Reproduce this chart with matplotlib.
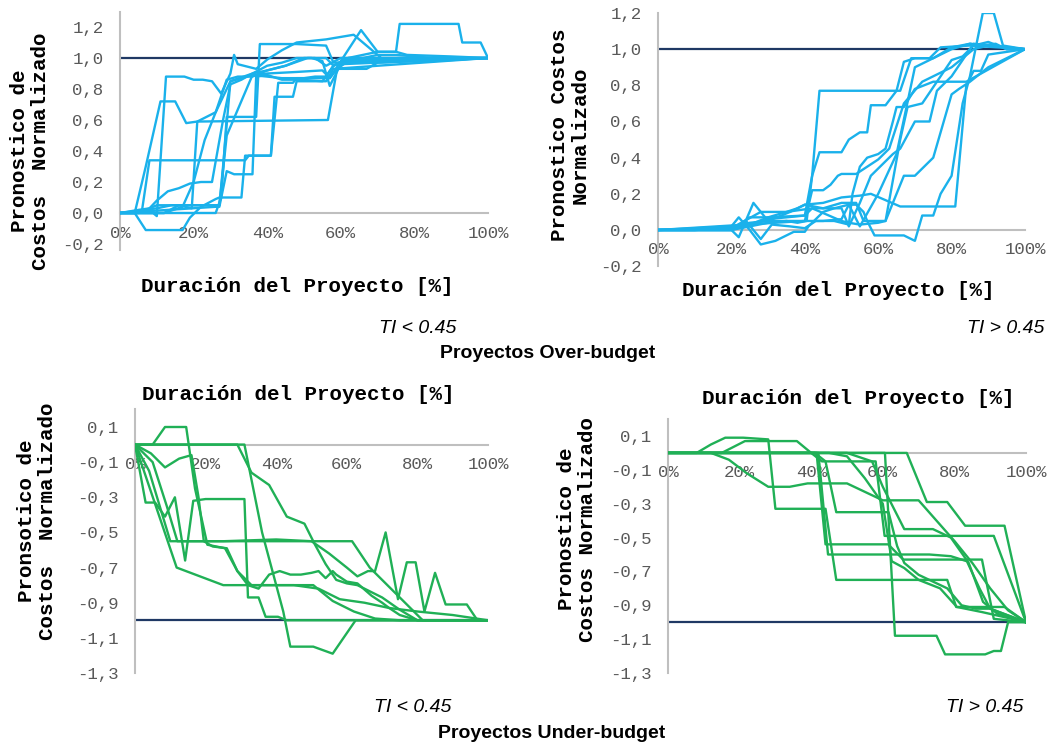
import matplotlib
matplotlib.use('Agg')
import matplotlib.pyplot as plt
from matplotlib.ticker import FuncFormatter

W, H = 1057, 746
BLUE = '#1ab1eb'
GREEN = '#20b056'
NAVY = '#1f3864'
GRAY = '#bfbfbf'
MONO = 'Liberation Mono'

# Over-budget, TI < 0.45
over_low_x = [
    [0, 9, 10, 12.5, 17.5, 20, 22.5, 25, 27.5, 30, 31, 32, 37, 40, 44, 48, 56, 63.5, 71, 100],
    [0, 4, 7, 11, 15, 18, 21, 26, 30, 33, 36, 44, 50, 53, 56, 58, 62, 100],
    [0, 4, 6, 8, 34, 35, 41, 43, 47, 48, 57, 59, 67, 70, 100],
    [0, 12, 16, 19.5, 21, 56.5, 59, 62, 85, 100],
    [0, 4, 7, 17, 19, 22, 26, 27, 33, 34, 38, 41, 42, 47, 48, 56, 58, 100],
    [0, 26, 27.5, 29, 37, 38, 48, 56, 58, 100],
    [0, 26, 27, 29, 31, 36, 37, 40, 44, 49, 55, 58, 62, 100],
    [0, 5, 8, 10, 13, 16, 19, 22, 25, 28, 30, 33, 36, 40, 44, 48, 52, 55, 57, 60, 100],
    [0, 12, 17, 20, 23, 26, 29, 32, 36, 40, 45, 51, 53, 56, 60, 66, 70, 75, 85, 100],
    [0, 5, 10, 20, 27, 28, 30, 36, 40, 45, 50, 56, 58, 62, 70, 75, 76, 92, 93, 98, 100],
    [0, 10, 14, 18, 27, 29, 36, 40, 48, 55, 57, 65.5, 70, 75, 78, 90, 100],
]
over_low_y = [
    [0, 0, -0.02, 0.88, 0.88, 0.86, 0.86, 0.85, 0.77, 0.9, 1.02, 0.96, 0.93, 0.99, 1.05, 1.1, 1.12, 1.15, 1.0, 1.0],
    [0, 0, 0.3, 0.72, 0.72, 0.58, 0.59, 0.65, 0.85, 0.87, 0.89, 0.87, 0.87, 0.88, 0.88, 0.95, 1.0, 1.0],
    [0, 0, 0.02, 0.34, 0.34, 0.37, 0.37, 0.84, 0.84, 0.87, 0.87, 0.93, 0.93, 0.97, 1.0],
    [0, 0, 0.05, 0.03, 0.59, 0.6, 0.93, 0.98, 0.98, 1.0],
    [0, 0, -0.11, -0.11, -0.03, 0.04, 0.09, 0.1, 0.1, 0.37, 0.37, 0.37, 0.75, 0.75, 0.85, 0.85, 0.93, 1.0],
    [0, 0, 0.1, 0.62, 0.62, 1.09, 1.09, 1.08, 0.97, 1.0],
    [0, 0.04, 0.04, 0.27, 0.25, 0.25, 0.88, 0.89, 0.86, 0.86, 0.85, 0.95, 0.99, 1.0],
    [0, 0.02, 0.03, 0.08, 0.14, 0.16, 0.19, 0.2, 0.2, 0.6, 0.83, 0.86, 0.9, 0.95, 0.97, 1.0, 1.0, 0.98, 0.82, 0.96, 1.0],
    [0, 0, 0.04, 0.2, 0.47, 0.65, 0.86, 0.88, 0.88, 0.92, 0.95, 1.0, 1.0, 0.95, 1.0, 1.0, 1.02, 1.02, 1.0, 1.0],
    [0, 0, 0.05, 0.05, 0.05, 0.3, 0.85, 0.9, 0.92, 0.95, 1.0, 1.0, 0.95, 1.0, 1.04, 1.04, 1.22, 1.22, 1.1, 1.1, 1.0],
    [0, 0.03, 0.05, 0.05, 0.05, 0.5, 0.89, 0.9, 0.91, 0.92, 0.87, 1.18, 1.04, 1.04, 1.02, 1.01, 1.0],
]

# Over-budget, TI > 0.45
over_high_x = [
    [0, 10, 20, 25, 30, 35, 38, 40.5, 42, 44, 66, 69, 74, 77, 85, 100],
    [0, 20, 25, 30, 40, 42, 44, 50, 52, 55, 57, 58, 62, 65, 67, 70, 75, 80, 85, 100],
    [0, 20, 25, 30, 35, 40, 42, 45, 47, 49, 50, 54, 57, 60, 63, 67, 72, 76, 80, 86, 90, 100],
    [0, 20, 22, 26, 30, 36, 40, 45, 50, 55, 58, 66, 81, 84, 86, 88, 90, 100],
    [0, 40, 45, 50, 52, 54, 56, 57, 59, 67, 70, 72, 75, 77, 80, 83, 85, 87, 88.5, 91.5, 94, 100],
    [0, 20, 24, 28, 31, 36, 40, 43, 48, 52, 53, 55, 57, 60, 62, 64, 65, 67, 70, 75, 80, 84, 100],
    [0, 10, 20, 28, 31, 35, 38, 40, 45, 50, 54, 56, 60, 62, 67, 70, 75, 80, 82, 85, 90, 100],
    [0, 20, 25, 30, 35, 40, 42, 45, 50, 52, 55, 58, 62, 64, 66, 70, 74, 76, 80, 86, 100],
    [0, 20, 25, 30, 35, 42, 50, 52, 55, 60, 62, 66, 68, 72, 76, 80, 83, 86, 90, 95, 100],
    [0, 20, 22, 25, 28, 32, 37, 40, 41, 45, 48, 52, 55, 60, 65, 70, 75, 80, 85, 88, 92, 95, 100],
]
over_high_y = [
    [0, 0, 0.01, 0.04, 0.05, 0.05, 0.04, 0.05, 0.3, 0.77, 0.77, 0.95, 0.95, 1.01, 1.02, 1.0],
    [0, 0, 0.03, 0.07, 0.08, 0.3, 0.43, 0.43, 0.5, 0.54, 0.54, 0.69, 0.69, 0.77, 0.93, 0.95, 0.95, 1.0, 1.03, 1.0],
    [0, 0.01, 0.02, 0.04, 0.05, 0.05, 0.22, 0.22, 0.25, 0.3, 0.31, 0.31, 0.35, 0.39, 0.45, 0.7, 0.82, 0.86, 0.9, 1.0, 1.02, 1.0],
    [0, 0, -0.04, 0.15, 0.05, 0.1, 0.14, 0.15, 0.18, 0.19, 0.2, 0.13, 0.13, 0.8, 0.88, 0.88, 0.97, 1.0],
    [0, 0.05, 0.05, 0.06, 0.14, 0.14, 0.1, 0.05, -0.03, -0.03, -0.06, 0.08, 0.08, 0.2, 0.3, 0.7, 0.85, 1.05, 1.2, 1.2, 1.02, 1.0],
    [0, 0, 0.05, -0.05, 0.03, 0.02, 0.01, 0.05, 0.05, 0.03, 0.2, 0.35, 0.4, 0.42, 0.45, 0.6, 0.68, 0.68, 0.78, 0.82, 0.82, 0.82, 1.0],
    [0, 0, 0.01, 0.1, 0.1, 0.1, 0.12, 0.14, 0.12, 0.15, 0.15, 0.05, 0.05, 0.05, 0.3, 0.3, 0.4, 0.75, 0.78, 0.82, 0.9, 1.0],
    [0, 0, 0.02, 0.06, 0.07, 0.08, 0.12, 0.12, 0.12, 0.02, 0.15, 0.3, 0.38, 0.42, 0.45, 0.6, 0.6, 0.77, 0.85, 1.03, 1.0],
    [0, 0, 0.07, 0.07, 0.1, 0.12, 0.05, 0.04, 0.03, 0.04, 0.05, 0.5, 0.68, 0.7, 0.82, 0.94, 0.96, 1.02, 1.04, 1.0, 1.0],
    [0, 0.02, 0.07, 0.0, -0.08, -0.06, -0.01, -0.01, 0.02, 0.1, 0.12, 0.14, 0.02, 0.2, 0.42, 0.9, 0.95, 1.01, 1.03, 1.02, 1.03, 1.0, 1.0],
]

# Under-budget, TI < 0.45
under_low_x = [
    [0, 5, 8.5, 14.5, 17, 20.5, 25.5, 29, 32, 35, 38, 41, 44, 47, 50, 52, 54, 56, 57, 60, 63, 67, 70, 72, 75, 80, 100],
    [0, 3, 5.7, 8.5, 11.3, 14.2, 16.5, 20, 25, 31, 32, 35, 37, 40.5, 43, 100],
    [0, 4, 10, 61.5, 66.5, 74, 81.5, 100],
    [0, 11.8, 25, 50.5, 56, 62, 68, 75, 100],
    [0, 4.5, 8.5, 12.5, 16, 18, 19.5, 22, 26, 29, 33, 37, 45, 52, 58, 65, 72, 80, 90, 100],
    [0, 29, 33, 38, 43, 48, 51, 54, 57, 60, 63, 66, 70, 75, 80, 100],
    [0, 31, 36, 42, 44, 50.5, 56, 62.5, 100],
    [0, 5, 9, 12, 25, 40, 50, 55, 60, 63, 66, 68, 71, 74.5, 77, 79.5, 82, 85, 88, 94, 97, 100],
]
under_low_y = [
    [0, 0, 0.1, 0.1, -0.25, -0.57, -0.59, -0.72, -0.8, -0.82, -0.74, -0.72, -0.74, -0.74, -0.73, -0.72, -0.76, -0.72, -0.74, -0.78, -0.79, -0.86, -0.9, -0.93, -0.97, -1.0, -1.0],
    [0, -0.33, -0.33, -0.41, -0.3, -0.66, -0.32, -0.31, -0.31, -0.31, -0.87, -0.87, -0.98, -0.98, -1.0, -1.0],
    [0, -0.15, -0.55, -0.55, -0.7, -0.85, -1.0, -1.0],
    [0, -0.7, -0.8, -0.8, -0.89, -0.95, -0.99, -1.0, -1.0],
    [0, -0.05, -0.13, -0.08, -0.06, -0.3, -0.55, -0.58, -0.59, -0.72, -0.8, -0.8, -0.8, -0.82, -0.88, -0.9, -0.93, -0.95, -0.97, -1.0],
    [0, 0, -0.16, -0.23, -0.41, -0.45, -0.57, -0.68, -0.77, -0.79, -0.8, -0.83, -0.87, -0.94, -1.0, -1.0],
    [0, 0, -0.5, -0.95, -1.15, -1.15, -1.19, -1.0, -1.0],
    [0, -0.1, -0.35, -0.55, -0.55, -0.54, -0.55, -0.62, -0.7, -0.75, -0.72, -0.72, -0.5, -0.88, -0.67, -0.67, -0.95, -0.73, -0.91, -0.91, -1.0, -1.0],
]

# Under-budget, TI > 0.45
under_high_x = [
    [0, 8, 12, 16, 21, 28, 30, 44, 47, 78, 80.5, 94, 100],
    [0, 15, 21.5, 36, 40, 43, 58, 60.5, 91, 100],
    [0, 12, 17, 22, 28, 34, 39, 50, 55, 60, 70, 75, 80, 85, 90, 95, 100],
    [0, 66.7, 72.3, 78, 83, 94, 100],
    [0, 60.6, 63.4, 75, 77.4, 88.6, 91, 93, 95, 100],
    [0, 41.5, 44, 61.5, 65.7, 87.7, 91, 100],
    [0, 42, 44.7, 73, 79, 83.5, 87, 90, 100],
    [0, 41, 44, 47, 61.6, 64, 66, 70, 74, 78, 82, 86, 90, 100],
    [0, 50, 57, 60, 66, 74, 79, 84, 88, 92, 100],
    [0, 45, 50, 55, 60, 62.5, 66, 70, 76, 80.7, 87.7, 94, 100],
]
under_high_y = [
    [0, 0, 0.05, 0.09, 0.09, 0.08, -0.33, -0.33, -0.75, -0.75, -0.91, -0.91, -1.0],
    [0, 0, 0.07, 0.07, 0, -0.05, -0.05, -0.49, -0.49, -1.0],
    [0, 0, -0.04, -0.12, -0.2, -0.2, -0.18, -0.18, -0.23, -0.28, -0.28, -0.4, -0.52, -0.65, -0.8, -0.93, -1.0],
    [0, 0, -0.29, -0.29, -0.43, -0.43, -1.0],
    [0, 0, -1.08, -1.08, -1.19, -1.19, -1.17, -1.17, -1.0, -1.0],
    [0, 0, -0.54, -0.54, -0.63, -0.63, -0.98, -1.0],
    [0, 0, -0.6, -0.6, -0.61, -0.64, -0.8, -0.92, -1.0],
    [0, 0, -0.05, -0.35, -0.35, -0.55, -0.65, -0.72, -0.76, -0.8, -0.9, -0.92, -0.92, -1.0],
    [0, 0, -0.05, -0.2, -0.45, -0.45, -0.5, -0.65, -0.88, -0.95, -1.0],
    [0, 0, -0.02, -0.15, -0.3, -0.64, -0.68, -0.75, -0.8, -0.91, -0.94, -0.97, -1.0],
]

x_ticks = [0, 20, 40, 60, 80, 100]
over_ticks = [-0.2, 0.0, 0.2, 0.4, 0.6, 0.8, 1.0, 1.2]
under_ticks = [0.1, -0.1, -0.3, -0.5, -0.7, -0.9, -1.1, -1.3]

fig = plt.figure(figsize=(W / 100, H / 100), dpi=100)


def make_axes(x0, x1, pa, va, pb, vb, ylim):
    '''Place an axes from pixel positions of x 0/100% and two y values.'''
    k = (pb - pa) / (va - vb)
    top = pa - (ylim[1] - va) * k
    bot = pa + (va - ylim[0]) * k
    ax = fig.add_axes([x0 / W, 1 - bot / H, (x1 - x0) / W, (bot - top) / H])
    ax.set_xlim(0, 100)
    ax.set_ylim(*ylim)
    return ax


def draw_panel(ax, xs, ys, color, ref, yticks):
    ax.axhline(ref, color=NAVY, lw=1.6, zorder=1)
    for x, y in zip(xs, ys):
        ax.plot(x, y, color=color, lw=1.7, zorder=3)
    for s in ['top', 'right']:
        ax.spines[s].set_visible(False)
    ax.spines['bottom'].set_position(('data', 0))
    ax.spines['left'].set_color(GRAY)
    ax.spines['bottom'].set_color(GRAY)
    ax.spines['left'].set_linewidth(1.5)
    ax.spines['bottom'].set_linewidth(1.5)
    ax.set_xticks(x_ticks)
    ax.set_yticks(yticks)
    ax.xaxis.set_major_formatter(FuncFormatter(lambda v, p: '%d%%' % v))
    ax.yaxis.set_major_formatter(
        FuncFormatter(lambda v, p: ('%.1f' % v).replace('.', ',')))
    ax.tick_params(length=0, labelsize=12.5, labelcolor='#595959')
    ax.tick_params(axis='x', pad=9)
    ax.tick_params(axis='y', pad=12)
    for lab in ax.get_xticklabels() + ax.get_yticklabels():
        lab.set_family(MONO)
    ax.patch.set_alpha(0)


def ftext(x, y, s, **kw):
    fig.text(x / W, 1 - y / H, s, ha='center', va='center', **kw)


ax1 = make_axes(120, 488, 27, 1.2, 213, 0.0, (-0.24, 1.3))
draw_panel(ax1, over_low_x, over_low_y, BLUE, 1.0, over_ticks)
ax2 = make_axes(658, 1025, 13, 1.2, 230, 0.0, (-0.2, 1.2))
draw_panel(ax2, over_high_x, over_high_y, BLUE, 1.0, over_ticks)
ax3 = make_axes(135, 488, 427, 0.1, 673, -1.3, (-1.3, 0.2))
draw_panel(ax3, under_low_x, under_low_y, GREEN, -1.0, under_ticks)
ax4 = make_axes(668, 1026, 436, 0.1, 673, -1.3, (-1.3, 0.2))
draw_panel(ax4, under_high_x, under_high_y, GREEN, -1.0, under_ticks)

lab = dict(family=MONO, fontweight='bold', fontsize=15, color='black')
ftext(297, 287, 'Duración del Proyecto [%]', **lab)
ftext(838, 290, 'Duración del Proyecto [%]', **lab)
ftext(298, 394, 'Duración del Proyecto [%]', **lab)
ftext(858, 398, 'Duración del Proyecto [%]', **lab)
ftext(30, 151, 'Pronostico de\nCostos  Normalizado', rotation=90,
      linespacing=1.1, **lab)
ftext(570, 135, 'Pronostico Costos\nNormalizado', rotation=90,
      linespacing=1.1, **lab)
ftext(37, 521, 'Pronsotico de\nCostos  Normalizado', rotation=90,
      linespacing=1.1, **lab)
ftext(577, 529, 'Pronostico de\nCostos Normalizado', rotation=90,
      linespacing=1.1, **lab)

sans = 'Liberation Sans'
ftext(418, 328, 'TI < 0.45', family=sans, style='italic', fontsize=14)
ftext(1006, 328, 'TI > 0.45', family=sans, style='italic', fontsize=14)
ftext(548, 353, 'Proyectos Over-budget', family=sans, fontweight='bold',
      fontsize=14)
ftext(413, 708, 'TI < 0.45', family=sans, style='italic', fontsize=14)
ftext(985, 708, 'TI > 0.45', family=sans, style='italic', fontsize=14)
ftext(552, 733, 'Proyectos Under-budget', family=sans, fontweight='bold',
      fontsize=14)

fig.savefig('out.png', dpi=100)
